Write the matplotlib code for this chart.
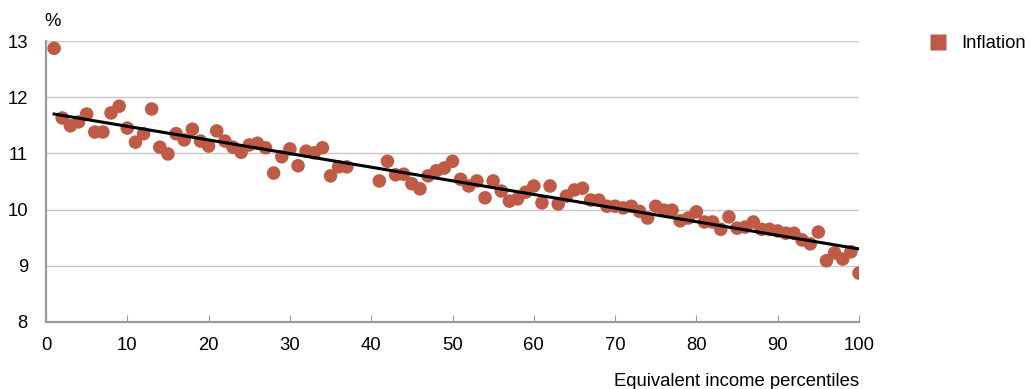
import matplotlib
matplotlib.use("Agg")
import matplotlib.pyplot as plt
from matplotlib.lines import Line2D

plt.rcParams['font.family'] = ['Liberation Sans', 'DejaVu Sans']

percentiles = [1, 2, 3, 4, 5, 6, 7, 8, 9, 10,
               11, 12, 13, 14, 15, 16, 17, 18, 19, 20,
               21, 22, 23, 24, 25, 26, 27, 28, 29, 30,
               31, 32, 33, 34, 35, 36, 37,
               41, 42, 43, 44, 45, 46, 47, 48, 49, 50,
               51, 52, 53, 54, 55, 56, 57, 58, 59, 60,
               61, 62, 63, 64, 65, 66, 67, 68, 69, 70,
               71, 72, 73, 74, 75, 76, 77, 78, 79, 80,
               81, 82, 83, 84, 85, 86, 87, 88, 89, 90,
               91, 92, 93, 94, 95, 96, 97, 98, 99, 100]
inflation = [12.87, 11.63, 11.49, 11.56, 11.70, 11.38, 11.38, 11.72, 11.84, 11.45,
             11.20, 11.35, 11.79, 11.11, 10.99, 11.35, 11.24, 11.43, 11.22, 11.13,
             11.40, 11.22, 11.11, 11.02, 11.15, 11.18, 11.10, 10.65, 10.94, 11.08,
             10.78, 11.04, 11.01, 11.10, 10.60, 10.76, 10.76,
             10.51, 10.86, 10.62, 10.63, 10.46, 10.37, 10.60, 10.69, 10.74, 10.86,
             10.54, 10.42, 10.51, 10.21, 10.51, 10.33, 10.15, 10.19, 10.31, 10.42,
             10.12, 10.42, 10.10, 10.24, 10.35, 10.38, 10.17, 10.17, 10.06, 10.06,
             10.03, 10.06, 9.97, 9.85, 10.06, 9.99, 9.99, 9.80, 9.85, 9.96,
             9.78, 9.78, 9.65, 9.87, 9.67, 9.69, 9.78, 9.65, 9.65, 9.62,
             9.58, 9.58, 9.46, 9.39, 9.60, 9.09, 9.23, 9.12, 9.25, 8.87]
trend_x = [1, 100]
trend_y = [11.70, 9.30]

xticks = [0, 10, 20, 30, 40, 50, 60, 70, 80, 90, 100]
yticks = [8, 9, 10, 11, 12, 13]

dot_color = "#BE5A46"
grey = "#9A9A9A"
fs = 13.3

fig = plt.figure(figsize=(10.30, 3.89), dpi=100)
ax = fig.add_axes([46/1030, 1 - 322/389, (859-46)/1030, (322-41)/389])

ax.scatter(percentiles, inflation, s=95, color=dot_color, edgecolors='none', zorder=3)
ax.plot(trend_x, trend_y, color='black', lw=2.2, zorder=4)

ax.set_xlim(0, 100)
ax.set_ylim(8, 13)
ax.set_xticks(xticks)
ax.set_yticks(yticks)
ax.grid(axis='y', color='#C8C8C8', lw=1.0, zorder=0)
ax.set_axisbelow(True)
for s in ['top', 'right']:
    ax.spines[s].set_visible(False)
for s in ['left', 'bottom']:
    ax.spines[s].set_color(grey)
    ax.spines[s].set_linewidth(1.6)
ax.tick_params(axis='x', direction='in', length=5, color=grey, labelsize=fs, pad=11)
ax.tick_params(axis='y', length=0, labelsize=fs, pad=13)
ax.spines['bottom'].set_zorder(5)

fig.text(53/1030, 1 - 21/389, "%", fontsize=fs, ha='center', va='center')
fig.text(859/1030, 1 - 381/389, "Equivalent income percentiles", fontsize=fs, ha='right', va='center')

handle = Line2D([], [], marker='s', linestyle='none', markersize=12,
                markerfacecolor=dot_color, markeredgecolor='none')
fig.legend([handle], ["Inflation"], loc='center left',
           bbox_to_anchor=(926/1030, 1 - 44/389), frameon=False,
           fontsize=fs, handletextpad=0.6, handlelength=1.3,
           borderpad=0, borderaxespad=0)

fig.savefig("out.png", dpi=100)
